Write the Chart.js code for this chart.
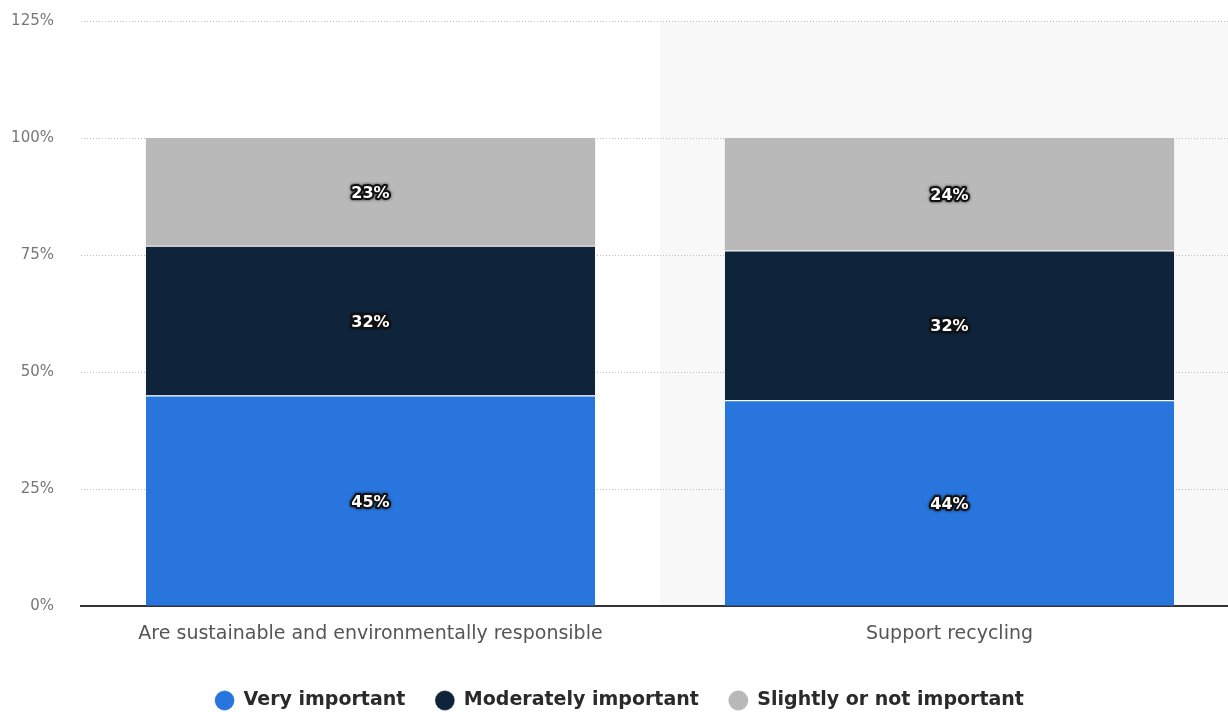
<!DOCTYPE html>
<html>
<head>
<meta charset="utf-8">
<script src="https://cdn.jsdelivr.net/npm/chart.js@4.4.0/dist/chart.umd.min.js"></script>
<style>
  html, body { margin: 0; padding: 0; background: #ffffff; overflow: hidden; }
  #wrap { width: 1228px; height: 712px; position: relative; overflow: hidden; }
</style>
</head>
<body>
<div id="wrap"><canvas id="c" width="1239" height="712" style="width:1239px;height:712px;"></canvas></div>
<script>
const categories = ["Are sustainable and environmentally responsible", "Support recycling"];
const seriesNames = ["Very important", "Moderately important", "Slightly or not important"];
const veryImportant = [45, 44];
const moderatelyImportant = [32, 32];
const slightlyImportant = [23, 24];
const yTicks = [0, 25, 50, 75, 100, 125];
const colors = ["#2876dd", "#0f243b", "#b9b9b9"];

const FONT = '"DejaVu Sans", sans-serif';

const bandPlugin = {
  id: 'band',
  beforeDraw(chart) {
    const {ctx, chartArea, scales} = chart;
    const x = scales.x;
    const n = categories.length;
    const w = (chartArea.right - chartArea.left) / n;
    ctx.save();
    ctx.fillStyle = '#f8f8f8';
    for (let i = 1; i < n; i += 2) {
      const cx = x.getPixelForValue(i);
      ctx.fillRect(cx - w / 2, chartArea.top, w, chartArea.bottom - chartArea.top);
    }
    ctx.restore();
  }
};

const labelPlugin = {
  id: 'valueLabels',
  afterDatasetsDraw(chart) {
    const ctx = chart.ctx;
    ctx.save();
    ctx.font = 'bold 16px ' + FONT;
    ctx.textAlign = 'center';
    ctx.textBaseline = 'middle';
    ctx.lineJoin = 'round';
    chart.data.datasets.forEach((ds, di) => {
      const meta = chart.getDatasetMeta(di);
      meta.data.forEach((bar, i) => {
        const v = ds.data[i];
        const cy = (bar.y + bar.base) / 2 + 2;
        const txt = v + '%';
        ctx.shadowColor = 'rgba(0,0,0,0.8)';
        ctx.shadowBlur = 3;
        ctx.lineWidth = 4;
        ctx.strokeStyle = '#111111';
        ctx.strokeText(txt, bar.x, cy);
        ctx.shadowBlur = 0;
        ctx.fillStyle = '#ffffff';
        ctx.fillText(txt, bar.x, cy);
      });
    });
    ctx.restore();
  }
};

new Chart(document.getElementById('c'), {
  type: 'bar',
  data: {
    labels: categories,
    datasets: [
      { label: seriesNames[0], data: veryImportant, backgroundColor: colors[0], borderColor: '#ffffff', borderWidth: {top: 1}, borderSkipped: 'bottom' },
      { label: seriesNames[1], data: moderatelyImportant, backgroundColor: colors[1], borderColor: '#ffffff', borderWidth: {top: 1}, borderSkipped: 'bottom' },
      { label: seriesNames[2], data: slightlyImportant, backgroundColor: colors[2], borderColor: '#ffffff', borderWidth: {top: 0}, borderSkipped: 'bottom' }
    ]
  },
  options: {
    responsive: false,
    animation: false,
    layout: { padding: { top: 0, left: 0, right: 0, bottom: -8 } },
    datasets: { bar: { categoryPercentage: 0.776, barPercentage: 1.0 } },
    scales: {
      x: {
        stacked: true,
        grid: { display: false, drawTicks: false },
        border: { display: true, color: '#333333', width: 2 },
        ticks: { color: '#555555', font: { family: FONT, size: 19 }, padding: 16 }
      },
      y: {
        stacked: true,
        min: 0, max: 125,
        afterBuildTicks(axis) { axis.ticks = yTicks.map(v => ({ value: v })); },
        afterFit(axis) { axis.width = 81; axis.paddingTop = 21; axis.paddingBottom = 9; },
        grid: { color: '#bdbdbd', drawTicks: false, lineWidth: 1 },
        border: { display: false, dash: [1, 2] },
        ticks: { color: '#777777', font: { family: FONT, size: 15 }, padding: 27, callback: v => v + '%' }
      }
    },
    plugins: {
      legend: {
        position: 'bottom',
        labels: {
          usePointStyle: true, pointStyle: 'circle', boxWidth: 19, boxHeight: 14,
          color: '#2a2a2a', padding: 30,
          font: { family: FONT, size: 19, weight: 'bold' }
        }
      },
      tooltip: { enabled: false }
    }
  },
  plugins: [bandPlugin, labelPlugin]
});
</script>
</body>
</html>
